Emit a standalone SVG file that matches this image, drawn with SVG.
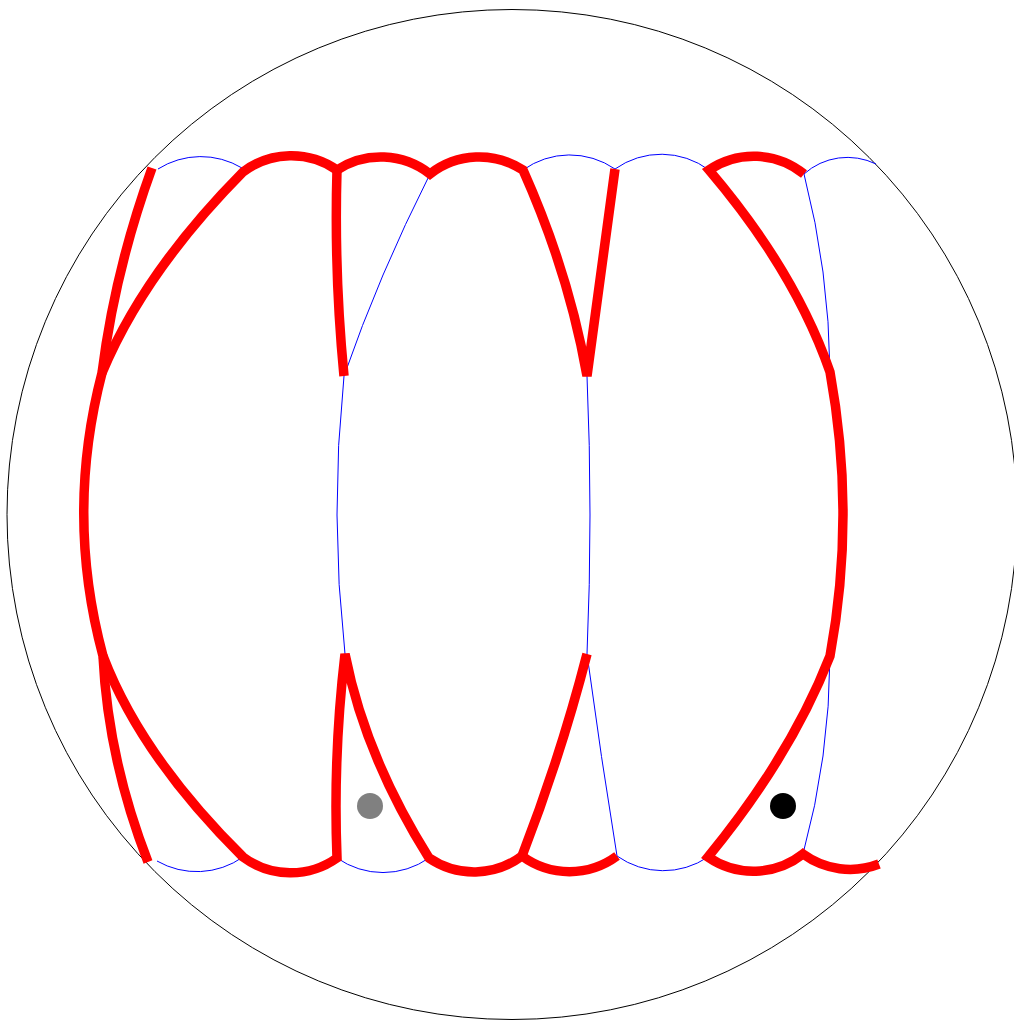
<svg xmlns="http://www.w3.org/2000/svg" width="1014" height="1022" viewBox="0 0 1014 1022">
<style>
.red{fill:none;stroke:#ff0000;stroke-width:9.5;stroke-linecap:butt;stroke-linejoin:miter}
.blue{fill:none;stroke:#0000ff;stroke-width:1}
.disk{fill:none;stroke:#000000;stroke-width:1}
</style>
<rect x="0" y="0" width="1014" height="1022" fill="#ffffff"/>
<circle id="boundary" class="disk" cx="512" cy="514.5" r="505"/>
<g id="blue-edges">
<path class="blue" d="M158,169 A80,80 0 0 1 242,168"/>
<path class="blue" d="M523,170 A80,80 0 0 1 615,169"/>
<path class="blue" d="M615,169 A80,80 0 0 1 709,170"/>
<path class="blue" d="M804,174 A65,65 0 0 1 876,164"/>
<path class="blue" d="M430,174 Q379,275 344,376"/>
<path class="blue" d="M804,174 Q829,271 830,372"/>
<path class="blue" d="M344,376 Q329.5,515 345,654"/>
<path class="blue" d="M587,376 Q593,515 587,654"/>
<path class="blue" d="M587,654 Q601,758 617,856"/>
<path class="blue" d="M830,656 Q829.5,757 803,854"/>
<path class="blue" d="M157,861 A80,80 0 0 0 243,857"/>
<path class="blue" d="M337,858 A80,80 0 0 0 429,858"/>
<path class="blue" d="M617,856 A80,80 0 0 0 708,857"/>
</g>
<g id="red-edges">
<path class="red" d="M152,168 Q115,270 102,373 Q65,515 103,656 Q108,759 148,862"/>
<path class="red" d="M102,373 Q144,272 243,172 A80,80 0 0 1 337,170 A80,80 0 0 1 430,174 A80,80 0 0 1 523,170 Q569,273 587,376 L615,169"/>
<path class="red" d="M337,170 Q334,273 344,376"/>
<path class="red" d="M804,174 A80,80 0 0 0 709,170 Q795,271 830,372 Q856,515 830,656 Q791,756 708,857 A80,80 0 0 0 803,854 A80,80 0 0 0 879,864"/>
<path class="red" d="M103,656 Q141,756 243,857 A80,80 0 0 0 337,858 Q333,756 345,654 Q365,756 429,858 A80,80 0 0 0 522,856 A80,80 0 0 0 617,856"/>
<path class="red" d="M522,856 Q561,755 587,654"/>
</g>
<g id="points">
<circle id="gray-point" cx="370" cy="806" r="13" fill="#808080"/>
<circle id="black-point" cx="783" cy="806" r="13" fill="#000000"/>
</g>
</svg>
